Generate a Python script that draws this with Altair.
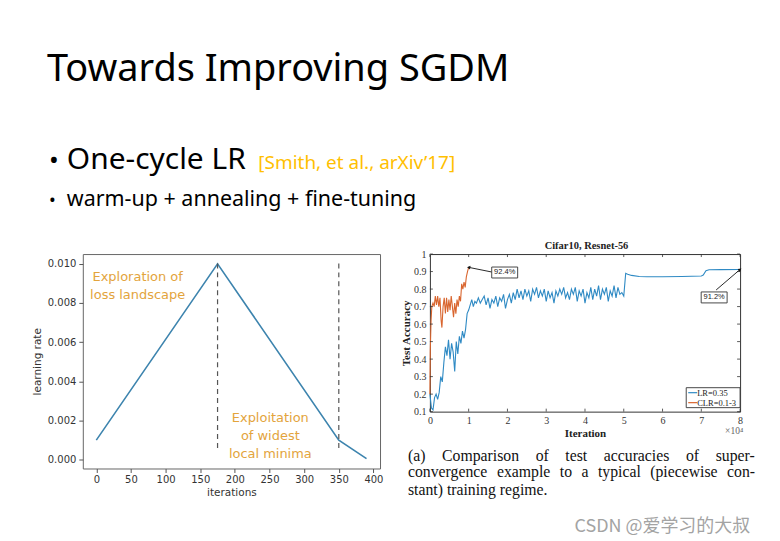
import altair as alt
import pandas as pd

# ---------------- data ----------------
# left: one-cycle learning-rate schedule
onecycle_iter = [0, 175, 350, 390]
onecycle_lr = [0.001, 0.010, 0.001, 0.00005]
phase_iter = [175, 350]
phase_lo = [0.0006, 0.0006]
phase_hi = [0.0101, 0.0101]
left_xticks = [0, 50, 100, 150, 200, 250, 300, 350, 400]
left_yticks = [0.000, 0.002, 0.004, 0.006, 0.008, 0.010]

# right: Cifar10 / Resnet-56 test accuracy (iteration in units of 1e4)
lr_iter = [0.00, 0.04, 0.08, 0.12, 0.16, 0.20, 0.24, 0.28, 0.32, 0.36, 0.40, 0.44, 0.48, 0.52,
           0.56, 0.60, 0.64, 0.68, 0.72, 0.76, 0.80, 0.84, 0.88, 0.92, 0.96, 1.00, 1.04, 1.08,
           1.12, 1.16, 1.20, 1.25, 1.30, 1.35, 1.40, 1.45, 1.50, 1.55, 1.60, 1.65, 1.70, 1.75,
           1.80, 1.85, 1.90, 1.95, 2.00, 2.05, 2.10, 2.15, 2.20, 2.25, 2.30, 2.35, 2.40, 2.45,
           2.50, 2.55, 2.60, 2.65, 2.70, 2.75, 2.80, 2.85, 2.90, 2.95, 3.00, 3.05, 3.10, 3.15,
           3.20, 3.25, 3.30, 3.35, 3.40, 3.45, 3.50, 3.55, 3.60, 3.65, 3.70, 3.75, 3.80, 3.85,
           3.90, 3.95, 4.00, 4.05, 4.10, 4.15, 4.20, 4.25, 4.30, 4.35, 4.40, 4.45, 4.50, 4.55,
           4.60, 4.65, 4.70, 4.75, 4.80, 4.85, 4.90, 4.95, 5.00, 5.05, 5.10, 5.20, 5.40, 5.60,
           6.00, 6.50, 7.00, 7.05, 7.12, 7.20, 7.50, 8.00]
lr_acc = [0.20, 0.12, 0.11, 0.18, 0.20, 0.17, 0.21, 0.30, 0.27, 0.38, 0.47, 0.42, 0.51, 0.40,
          0.49, 0.44, 0.33, 0.50, 0.43, 0.53, 0.49, 0.56, 0.52, 0.57, 0.66, 0.68, 0.71, 0.74,
          0.70, 0.73, 0.72, 0.75, 0.72, 0.74, 0.76, 0.71, 0.75, 0.69, 0.74, 0.72, 0.76, 0.70,
          0.75, 0.73, 0.77, 0.69, 0.74, 0.77, 0.72, 0.78, 0.74, 0.80, 0.75, 0.79, 0.74, 0.80,
          0.76, 0.79, 0.73, 0.80, 0.77, 0.81, 0.75, 0.79, 0.76, 0.80, 0.73, 0.79, 0.75, 0.78,
          0.72, 0.79, 0.76, 0.80, 0.77, 0.81, 0.75, 0.78, 0.74, 0.80, 0.77, 0.81, 0.73, 0.79,
          0.76, 0.80, 0.72, 0.78, 0.75, 0.81, 0.74, 0.80, 0.76, 0.82, 0.74, 0.80, 0.77, 0.81,
          0.73, 0.79, 0.76, 0.82, 0.75, 0.81, 0.77, 0.78, 0.76, 0.89, 0.885, 0.878, 0.872, 0.870,
          0.870, 0.872, 0.875, 0.880, 0.905, 0.910, 0.911, 0.912]
clr_iter = [0.00, 0.01, 0.03, 0.05, 0.08, 0.11, 0.14, 0.17, 0.20, 0.23, 0.26, 0.29, 0.31, 0.34,
            0.37, 0.40, 0.43, 0.46, 0.49, 0.52, 0.55, 0.58, 0.61, 0.64, 0.67, 0.70, 0.73, 0.76,
            0.79, 0.82, 0.85, 0.88, 0.91, 0.94, 0.97, 1.00]
clr_acc = [0.20, 0.45, 0.62, 0.70, 0.72, 0.70, 0.76, 0.71, 0.76, 0.70, 0.75, 0.62, 0.58, 0.70,
           0.75, 0.66, 0.75, 0.67, 0.74, 0.68, 0.76, 0.70, 0.64, 0.72, 0.66, 0.74, 0.70, 0.76,
           0.73, 0.83, 0.80, 0.84, 0.81, 0.87, 0.90, 0.924]
right_xticks = [0, 1, 2, 3, 4, 5, 6, 7, 8]
right_yticks = [0.1, 0.2, 0.3, 0.4, 0.5, 0.6, 0.7, 0.8, 0.9, 1.0]
peak_iter = [1.0, 8.0]
peak_acc = [0.924, 0.912]
peak_labels = ["92.4%", "91.2%"]
series_names = ["LR=0.35", "CLR=0.1-3"]

caption_line1 = ["(a)", "Comparison", "of", "test", "accuracies", "of", "super-"]
caption_line2 = ["convergence", "example", "to", "a", "typical", "(piecewise", "con-"]
caption_line3 = "stant) training regime."

# ---------------- styles ----------------
SANS = "Noto Sans"
SERIF = "Liberation Serif"
MPL = "DejaVu Sans"
BLUE = "#2f8ac4"
ORANGE = "#d9652e"
GOLD = "#FFC000"
ANNOT = "#e3a43c"

# Times glyph advance widths (per 1000 em) used to lay out justified caption lines
TIMES_W = {"(": 333, ")": 333, "-": 333, ".": 250, "a": 444, "c": 444, "e": 444, "g": 500,
           "i": 278, "l": 278, "m": 778, "n": 500, "o": 500, "p": 500, "r": 333, "s": 389,
           "t": 278, "u": 500, "v": 500, "w": 722, "x": 500, "y": 500, "C": 667, "f": 333}


def justify(words, x0, x1, size):
    widths = [sum(TIMES_W.get(ch, 500) for ch in w) * size / 1000 for w in words]
    gap = (x1 - x0 - sum(widths)) / (len(words) - 1)
    xs, cur = [], x0
    for w in widths:
        xs.append(cur)
        cur += w + gap
    return xs


def txt(s, x, y, size, color="#000", font=SANS, align="left", weight="normal",
        baseline="alphabetic", angle=None):
    kw = dict(align=align, baseline=baseline, fontSize=size, font=font, color=color,
              fontWeight=weight)
    if angle is not None:
        kw["angle"] = angle
    return alt.Chart(pd.DataFrame({"t": [s]})).mark_text(**kw).encode(
        x=alt.value(x), y=alt.value(y), text="t:N")


def one():
    return alt.Chart(pd.DataFrame({"k": [0]}))


# ---------------- left chart ----------------
W1, H1 = 298, 215
lx = alt.Scale(domain=[-19.5, 409.5], nice=False, zero=False)
ly = alt.Scale(domain=[-0.00045, 0.0105], nice=False, zero=False)
lax = alt.Axis(values=left_xticks, title="iterations", domain=False, grid=False,
               tickSize=4, tickColor="#555", labelFont=MPL, labelFontSize=10, labelColor="#333",
               labelPadding=2, labelFlush=False, labelOverlap=False, titleFont=MPL,
               titleFontSize=10.5, titleFontWeight="normal", titleColor="#333", titlePadding=3)
lay = alt.Axis(values=left_yticks, format=".3f", title="learning rate", domain=False,
               grid=False, tickSize=4, tickColor="#555", labelFont=MPL, labelFontSize=10,
               labelColor="#333", labelPadding=3, labelFlush=False, labelOverlap=False,
               titleFont=MPL, titleFontSize=10.5, titleFontWeight="normal",
               titleColor="#333", titlePadding=5)

canvas = one().mark_rect(opacity=0).encode(
    x=alt.value(-74), x2=alt.value(690), y=alt.value(-245), y2=alt.value(280))

lr_line = alt.Chart(pd.DataFrame({"it": onecycle_iter, "lr": onecycle_lr})).mark_line(
    color="#3d84ae", strokeWidth=1.6).encode(
    x=alt.X("it:Q", scale=lx, axis=lax),
    y=alt.Y("lr:Q", scale=ly, axis=lay),
)

phase = alt.Chart(pd.DataFrame({"it": phase_iter, "lr": phase_lo, "hi": phase_hi})).mark_rule(
    color="#555", strokeDash=[5, 4], strokeWidth=1.2).encode(
    x=alt.X("it:Q", scale=lx, axis=lax), y=alt.Y("lr:Q", scale=ly, axis=lay), y2="hi:Q")

left = alt.layer(
    canvas,
    lr_line,
    phase,
    txt("Exploration of", 55, 27, 13, ANNOT, MPL, "center"),
    txt("loss landscape", 55, 45, 13, ANNOT, MPL, "center"),
    txt("Exploitation", 188, 168, 13, ANNOT, MPL, "center"),
    txt("of widest", 188, 186, 13, ANNOT, MPL, "center"),
    txt("local minima", 188, 204, 13, ANNOT, MPL, "center"),
    # slide header
    txt("Towards Improving SGDM", -36, -174, 38),
    txt("\u2022", -34, -85, 26),
    txt("One-cycle LR", -16, -85, 30),
    txt("[Smith, et al., arXiv\u201917]", 176, -85, 19, GOLD),
    txt("\u2022", -34, -48, 18),
    txt("warm-up + annealing + fine-tuning", -16, -48, 21.5),
).properties(width=W1, height=H1, view=alt.ViewBackground(stroke="#666", strokeWidth=1))

# ---------------- right chart ----------------
W2, H2 = 311, 158
rx = alt.Scale(domain=[0, 8], nice=False, zero=False)
ry = alt.Scale(domain=[0.1, 1.0], nice=False, zero=False)

xaxis_r = alt.Axis(values=right_xticks, format="d", title="Iteration", domain=False, grid=False,
                   ticks=False, labelFont=SERIF, labelFontSize=10, labelColor="#333",
                   labelPadding=4, labelFlush=False, labelOverlap=False, titleFont=SERIF,
                   titleFontSize=11, titleFontWeight="bold", titleColor="#222",
                   titlePadding=2)
yaxis_r = alt.Axis(values=right_yticks, format="~g", title="Test Accuracy", domain=False,
                   grid=False, ticks=False, labelFont=SERIF, labelFontSize=10,
                   labelColor="#333", labelPadding=4, labelFlush=False, labelOverlap=False,
                   titleFont=SERIF, titleFontSize=11, titleFontWeight="bold",
                   titleColor="#222", titlePadding=2)


def RX(f):
    return alt.X(f, scale=rx, axis=xaxis_r)


def RY(f):
    return alt.Y(f, scale=ry, axis=yaxis_r)


blue = alt.Chart(pd.DataFrame({"it": lr_iter, "acc": lr_acc})).mark_line(
    color=BLUE, strokeWidth=1.1).encode(x=RX("it:Q"), y=RY("acc:Q"))
orange = alt.Chart(pd.DataFrame({"it": clr_iter, "acc": clr_acc})).mark_line(
    color=ORANGE, strokeWidth=1.1).encode(x=RX("it:Q"), y=RY("acc:Q"))

xt = pd.DataFrame({"it": right_xticks})
yt = pd.DataFrame({"acc": right_yticks})
tick_style = dict(color="#333", strokeWidth=0.8)
ticks_bottom = alt.Chart(xt).mark_rule(**tick_style).encode(
    x=RX("it:Q"), y=alt.value(H2), y2=alt.value(H2 - 3))
ticks_top = alt.Chart(xt).mark_rule(**tick_style).encode(
    x=RX("it:Q"), y=alt.value(0), y2=alt.value(3))
ticks_left = alt.Chart(yt).mark_rule(**tick_style).encode(
    y=RY("acc:Q"), x=alt.value(0), x2=alt.value(3))
ticks_right = alt.Chart(yt).mark_rule(**tick_style).encode(
    y=RY("acc:Q"), x=alt.value(W2), x2=alt.value(W2 - 3))

peaks = pd.DataFrame({"it": peak_iter, "acc": peak_acc, "lab": peak_labels})
arrow1 = alt.Chart(peaks.iloc[[0]]).mark_rule(color="#111", strokeWidth=0.9).encode(
    x=RX("it:Q"), y=RY("acc:Q"), x2=alt.value(62), y2=alt.value(18))
arrow2 = alt.Chart(peaks.iloc[[1]]).mark_rule(color="#111", strokeWidth=0.9).encode(
    x=RX("it:Q"), y=RY("acc:Q"), x2=alt.value(287), y2=alt.value(36))
head1 = alt.Chart(peaks.iloc[[0]]).mark_point(
    shape="triangle-left", filled=True, color="#111", size=14, angle=8, opacity=1).encode(
    x=RX("it:Q"), y=RY("acc:Q"))
head2 = alt.Chart(peaks.iloc[[1]]).mark_point(
    shape="triangle-right", filled=True, color="#111", size=14, angle=322, opacity=1).encode(
    x=RX("it:Q"), y=RY("acc:Q"))
box1 = one().mark_rect(fill="white", stroke="#333", strokeWidth=0.9).encode(
    x=alt.value(62), x2=alt.value(88), y=alt.value(13), y2=alt.value(24))
box2 = one().mark_rect(fill="white", stroke="#333", strokeWidth=0.9).encode(
    x=alt.value(272), x2=alt.value(298), y=alt.value(38), y2=alt.value(49))
lab1 = txt(peak_labels[0], 75, 18.5, 7.5, "#222", "Liberation Sans", "center", baseline="middle")
lab2 = txt(peak_labels[1], 285, 43.5, 7.5, "#222", "Liberation Sans", "center", baseline="middle")

legend_box = one().mark_rect(fill="white", stroke="#333", strokeWidth=0.9).encode(
    x=alt.value(257), x2=alt.value(W2), y=alt.value(134), y2=alt.value(154))
leg_l1 = one().mark_rule(color=BLUE, strokeWidth=1.2).encode(
    x=alt.value(259), x2=alt.value(268), y=alt.value(139))
leg_l2 = one().mark_rule(color=ORANGE, strokeWidth=1.2).encode(
    x=alt.value(259), x2=alt.value(268), y=alt.value(149))
leg_t1 = txt(series_names[0], 268, 142, 8.5, "#222", SERIF)
leg_t2 = txt(series_names[1], 268, 152, 8.5, "#222", SERIF)

CAP = 15.8
cap1_x = justify(caption_line1, -22, 326, CAP)
cap2_x = justify(caption_line2, -22, 326, CAP)
caption_layers = (
    [txt(w, x, 207, CAP, "#111", SERIF) for w, x in zip(caption_line1, cap1_x)]
    + [txt(w, x, 224, CAP, "#111", SERIF) for w, x in zip(caption_line2, cap2_x)]
    + [txt(caption_line3, -22, 242, CAP, "#111", SERIF)]
)

right = alt.layer(
    blue, orange,
    ticks_bottom, ticks_top, ticks_left, ticks_right,
    arrow1, arrow2, head1, head2, box1, box2, lab1, lab2,
    legend_box, leg_l1, leg_l2, leg_t1, leg_t2,
    txt("Cifar10, Resnet-56", 157, -5, 10.5, "#222", SERIF, "center", "bold"),
    txt("\u00d710\u2074", 296, 180, 9.5, "#666", SERIF),
    *caption_layers,
    txt("CSDN @\u7231\u5b66\u4e60\u7684\u5927\u53d4", 145, 279, 18, "#a3a3a3",
        "Noto Sans CJK SC"),
).properties(width=W2, height=H2, view=alt.ViewBackground(stroke="#333", strokeWidth=1))

chart = alt.hconcat(left, right, spacing=50, bounds="flush").properties(
    padding=0, background="white")

chart.save("out.html", embed_options={"renderer": "svg", "actions": False})
